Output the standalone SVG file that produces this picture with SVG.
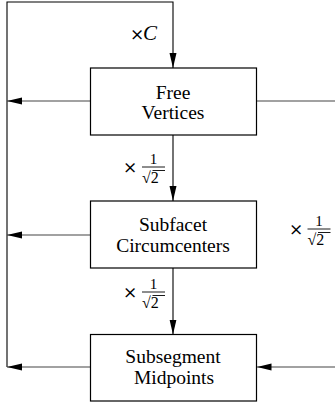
<svg xmlns="http://www.w3.org/2000/svg" width="335" height="403" viewBox="0 0 335 403">
<defs>
<marker id="ah" markerWidth="15" markerHeight="8" refX="15" refY="3.5" orient="auto" markerUnits="userSpaceOnUse">
<path d="M0,0 L15,3.5 L0,7 z" fill="#000"/>
</marker>
</defs>
<style>
.box{fill:#fff;stroke:#000;stroke-width:1.2}
.lbl{font-family:"Liberation Serif","Times New Roman",serif;font-size:19.5px;text-anchor:middle;fill:#000}
.m{font-family:"Liberation Serif","Times New Roman",serif;fill:#000}
.x{font-family:"DejaVu Serif",serif;font-size:17px;fill:#000}
.h{stroke:#444;stroke-width:1.2;fill:none}
.v{stroke:#000;stroke-width:1.1;fill:none}
.bar{stroke:#000;stroke-width:0.9}
</style>
<rect width="335" height="403" fill="#fff"/>
<g id="connectors">
<polyline class="v" points="7,367 7,2 173,2 173,68" marker-end="url(#ah)"/>
<line class="v" x1="173" y1="135" x2="173" y2="201" marker-end="url(#ah)"/>
<line class="v" x1="173" y1="268" x2="173" y2="334.5" marker-end="url(#ah)"/>
<line class="h" x1="90.5" y1="101" x2="7" y2="101" marker-end="url(#ah)"/>
<line class="h" x1="90.5" y1="235" x2="7" y2="235" marker-end="url(#ah)"/>
<line class="h" x1="90.5" y1="367" x2="7" y2="367" marker-end="url(#ah)"/>
<line class="h" x1="256.5" y1="101" x2="335" y2="101"/>
<line class="h" x1="335" y1="367" x2="256.5" y2="367" marker-end="url(#ah)"/>
<g id="label-c">
<text class="x" x="130" y="40">×</text>
<text class="m" x="143" y="40" font-size="21" font-style="italic">C</text>
</g>
<g id="label-f1">
<text class="x" x="123" y="173">×</text>
<text class="m" x="153.5" y="164" font-size="15" text-anchor="middle">1</text>
<line class="bar" x1="142" y1="167" x2="165" y2="167"/>
<text class="m" x="142" y="183" font-size="16">√2</text>
<line class="bar" x1="152.5" y1="170.5" x2="165" y2="170.5"/>
</g>
<g id="label-f2">
<text class="x" x="289" y="235">×</text>
<text class="m" x="319" y="226" font-size="15" text-anchor="middle">1</text>
<line class="bar" x1="307.5" y1="229" x2="330.5" y2="229"/>
<text class="m" x="307.5" y="245" font-size="16">√2</text>
<line class="bar" x1="318" y1="232.5" x2="330.5" y2="232.5"/>
</g>
<g id="label-f3">
<text class="x" x="123" y="298">×</text>
<text class="m" x="153.5" y="289" font-size="15" text-anchor="middle">1</text>
<line class="bar" x1="142" y1="292" x2="165" y2="292"/>
<text class="m" x="142" y="308" font-size="16">√2</text>
<line class="bar" x1="152.5" y1="295.5" x2="165" y2="295.5"/>
</g>
</g>
<g id="free-vertices">
<rect class="box" x="90.5" y="68" width="166" height="67"/>
<text class="lbl" x="173" y="99">Free</text>
<text class="lbl" x="173" y="119">Vertices</text>
</g>
<g id="subfacet-circumcenters">
<rect class="box" x="90.5" y="201" width="166" height="67"/>
<text class="lbl" x="173" y="231">Subfacet</text>
<text class="lbl" x="173" y="252">Circumcenters</text>
</g>
<g id="subsegment-midpoints">
<rect class="box" x="90.5" y="334.5" width="166" height="66.5"/>
<text class="lbl" x="173" y="363">Subsegment</text>
<text class="lbl" x="174" y="384">Midpoints</text>
</g>
</svg>
